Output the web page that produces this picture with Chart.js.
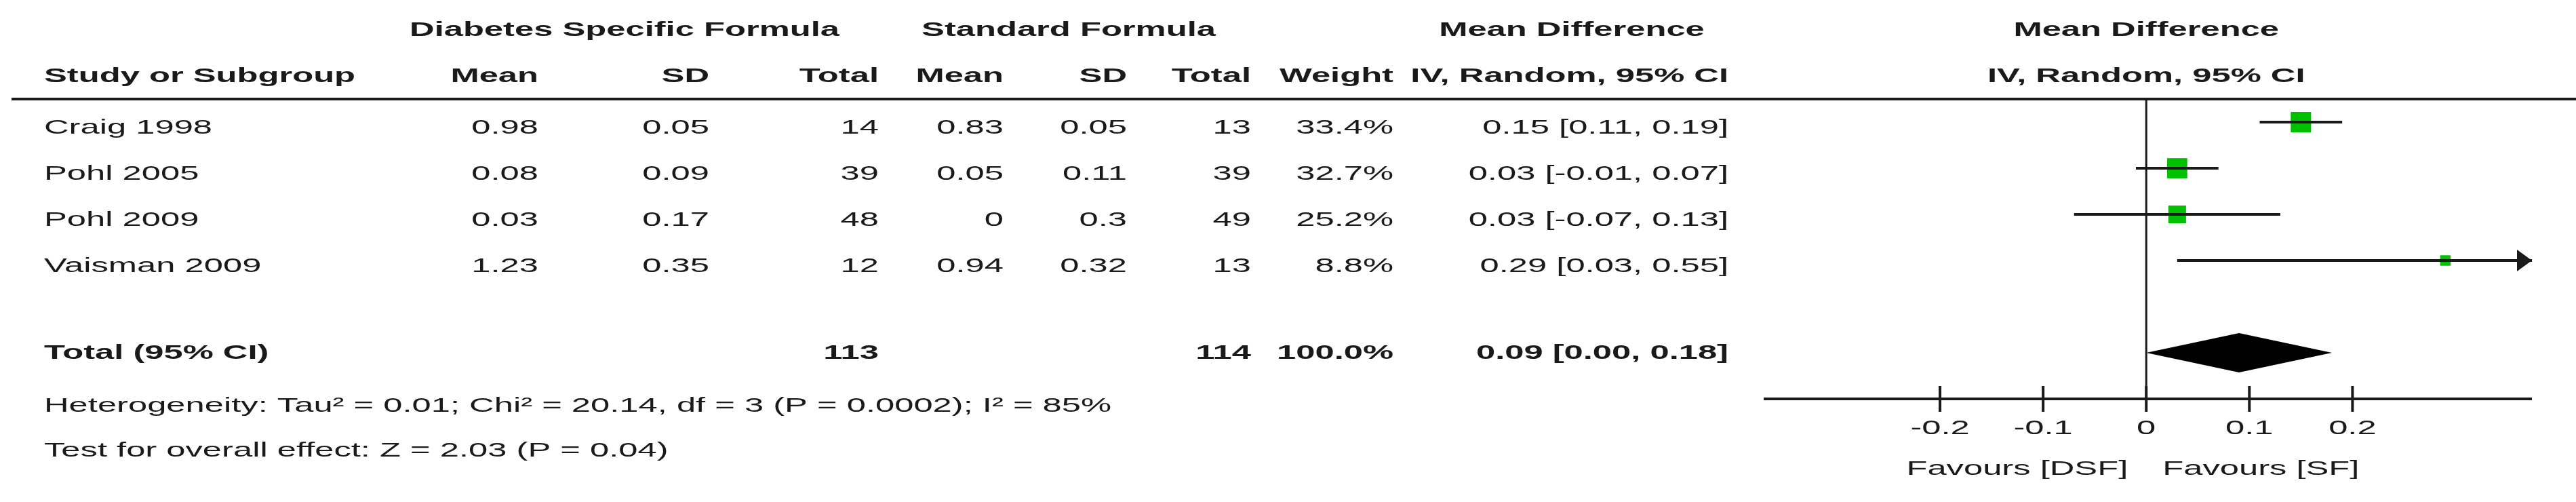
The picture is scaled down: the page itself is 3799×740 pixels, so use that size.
<!DOCTYPE html>
<html>
<head>
<meta charset="utf-8">
<script src="https://cdn.jsdelivr.net/npm/chart.js@4"></script>
<style>
  html, body { margin: 0; padding: 0; background: #fff; }
  #wrap { width: 3799px; height: 740px; }
</style>
</head>
<body>
<div id="wrap"><canvas id="chart"></canvas></div>
<script>
// study data
const studies = ["Craig 1998", "Pohl 2005", "Pohl 2009", "Vaisman 2009"];
const dsfMean = ["0.98", "0.08", "0.03", "1.23"];
const dsfSD = ["0.05", "0.09", "0.17", "0.35"];
const dsfTotal = [14, 39, 48, 12];
const sfMean = ["0.83", "0.05", "0", "0.94"];
const sfSD = ["0.05", "0.11", "0.3", "0.32"];
const sfTotal = [13, 39, 49, 13];
const weights = [33.4, 32.7, 25.2, 8.8];
const md = [0.15, 0.03, 0.03, 0.29];
const ciLow = [0.11, -0.01, -0.07, 0.03];
const ciHigh = [0.19, 0.07, 0.13, 0.55];

const total = { dsf: 113, sf: 114, weight: "100.0%", md: 0.09, lo: 0.00, hi: 0.18 };
const xTicks = [-0.2, -0.1, 0, 0.1, 0.2];
const xTickLabels = ["-0.2", "-0.1", "0", "0.1", "0.2"];

const FONT = '"Liberation Sans", Arial, sans-serif';
const SX = 1.69;   // the source picture is stretched sideways
const INK = "#1a1a1a";

function txt(ctx, s, x, y, align, bold) {
  ctx.save();
  ctx.translate(x, y);
  ctx.scale(SX, 1);
  ctx.font = (bold ? "bold " : "") + "30px " + FONT;
  ctx.fillStyle = INK;
  ctx.textAlign = align;
  ctx.textBaseline = "middle";
  ctx.fillText(s, 0, 0);
  ctx.restore();
}

const fmt = v => v.toFixed(2);

const datasets = [];
studies.forEach((s, i) => {
  datasets.push({
    type: "line",
    data: [{ x: ciLow[i], y: i }, { x: ciHigh[i], y: i }],
    borderColor: INK, borderWidth: 4, pointRadius: 0, fill: false
  });
});
datasets.push({
  type: "scatter",
  data: md.map((v, i) => ({ x: v, y: i })),
  pointStyle: "rect",
  pointRadius: weights.map(w => 5.2 * Math.sqrt(w) / Math.SQRT2),
  backgroundColor: "#00c000", borderWidth: 0
});

const forestPlugin = {
  id: "forest",
  afterDatasetsDraw(chart) {
    const ctx = chart.ctx;
    const xs = chart.scales.x, ys = chart.scales.y;
    const area = chart.chartArea;
    const px = v => xs.getPixelForValue(v);
    const py = v => ys.getPixelForValue(v);

    // zero line
    ctx.strokeStyle = INK;
    ctx.lineWidth = 3;
    ctx.beginPath();
    ctx.moveTo(px(0), area.top); ctx.lineTo(px(0), py(6));
    ctx.stroke();

    // arrows for CIs running off the scale
    studies.forEach((s, i) => {
      if (ciHigh[i] > xs.max) {
        const x = area.right, y = py(i);
        ctx.fillStyle = INK;
        ctx.beginPath();
        ctx.moveTo(x, y); ctx.lineTo(x - 22, y - 16); ctx.lineTo(x - 22, y + 16);
        ctx.closePath(); ctx.fill();
      }
    });

    // pooled diamond
    const yt = py(5);
    ctx.fillStyle = "#000";
    ctx.beginPath();
    ctx.moveTo(px(total.lo), yt);
    ctx.lineTo(px(total.md), yt - 29);
    ctx.lineTo(px(total.hi), yt);
    ctx.lineTo(px(total.md), yt + 29);
    ctx.closePath(); ctx.fill();

    // x axis
    const ya = py(6);
    ctx.strokeStyle = INK;
    ctx.lineWidth = 4;
    ctx.beginPath();
    ctx.moveTo(area.left, ya); ctx.lineTo(area.right, ya);
    xTicks.forEach(t => { ctx.moveTo(px(t), ya - 19); ctx.lineTo(px(t), ya + 19); });
    ctx.stroke();
    xTicks.forEach((t, k) => txt(ctx, xTickLabels[k], px(t), 632, "center", false));
    txt(ctx, "Favours [DSF]", px(0) - 27, 692, "right", false);
    txt(ctx, "Favours [SF]", px(0) + 24, 692, "left", false);

    // header line
    ctx.lineWidth = 4;
    ctx.beginPath();
    ctx.moveTo(17, area.top); ctx.lineTo(3799, area.top);
    ctx.stroke();

    // headers
    txt(ctx, "Diabetes Specific Formula", 921, 45, "center", true);
    txt(ctx, "Standard Formula", 1576, 45, "center", true);
    txt(ctx, "Mean Difference", 2318, 45, "center", true);
    txt(ctx, "Mean Difference", px(0), 45, "center", true);
    txt(ctx, "Study or Subgroup", 65, 113, "left", true);
    const colR = [794, 1046, 1296, 1480, 1662, 1845, 2055, 2549];
    ["Mean", "SD", "Total", "Mean", "SD", "Total", "Weight", "IV, Random, 95% CI"]
      .forEach((h, k) => txt(ctx, h, colR[k], 113, "right", true));
    txt(ctx, "IV, Random, 95% CI", px(0), 113, "center", true);

    // study rows
    studies.forEach((s, i) => {
      const y = 189 + i * 68;
      txt(ctx, s, 65, y, "left", false);
      const cells = [dsfMean[i], dsfSD[i], String(dsfTotal[i]), sfMean[i], sfSD[i],
        String(sfTotal[i]), weights[i].toFixed(1) + "%",
        fmt(md[i]) + " [" + fmt(ciLow[i]) + ", " + fmt(ciHigh[i]) + "]"];
      cells.forEach((c, k) => txt(ctx, c, colR[k], y, "right", false));
    });

    // total row
    txt(ctx, "Total (95% CI)", 65, 521, "left", true);
    txt(ctx, String(total.dsf), colR[2], 521, "right", true);
    txt(ctx, String(total.sf), colR[5], 521, "right", true);
    txt(ctx, total.weight, colR[6], 521, "right", true);
    txt(ctx, fmt(total.md) + " [" + fmt(total.lo) + ", " + fmt(total.hi) + "]", colR[7], 521, "right", true);
    txt(ctx, "Heterogeneity: Tau² = 0.01; Chi² = 20.14, df = 3 (P = 0.0002); I² = 85%", 65, 599, "left", false);
    txt(ctx, "Test for overall effect: Z = 2.03 (P = 0.04)", 65, 665, "left", false);
  }
};

new Chart(document.getElementById("chart").getContext("2d"), {
  type: "scatter",
  data: { datasets: datasets },
  options: {
    responsive: true,
    maintainAspectRatio: false,
    animation: false,
    devicePixelRatio: 1,
    layout: { padding: { left: 2601, right: 65, top: 146, bottom: 152 } },
    plugins: { legend: { display: false }, tooltip: { enabled: false } },
    scales: {
      x: { type: "linear", min: -0.371, max: 0.374, display: false },
      y: { type: "linear", min: -0.5, max: 6, reverse: true, display: false }
    }
  },
  plugins: [forestPlugin]
});
</script>
</body>
</html>
